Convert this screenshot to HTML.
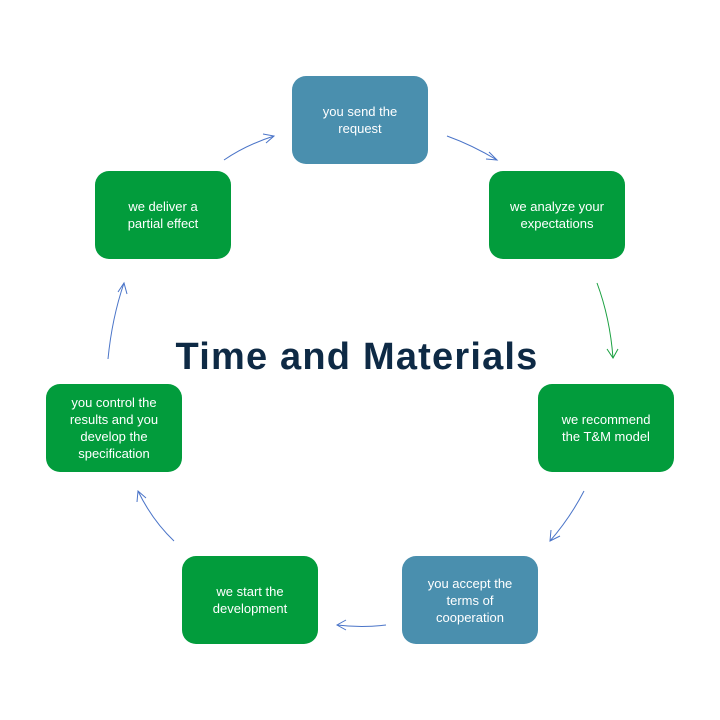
<!DOCTYPE html>
<html><head><style>
body{margin:0;width:720px;height:720px;background:#fff;position:relative;overflow:hidden;font-family:"Liberation Sans",sans-serif}
.b{position:absolute;width:136px;height:88px;border-radius:14px;color:#fff;display:flex;align-items:center;justify-content:center;text-align:center;font-size:13px;line-height:17px}
.g{background:#029c3c}.u{background:#4a8fae}
.t{position:absolute;left:0;width:714px;top:336px;text-align:center;font-weight:bold;font-size:38px;letter-spacing:1.2px;color:#0e2a45}
</style></head><body>
<div class="b u" style="left:292px;top:76px">you send the<br>request</div>
<div class="b g" style="left:489px;top:171px">we analyze your<br>expectations</div>
<div class="b g" style="left:538px;top:384px">we recommend<br>the T&amp;M model</div>
<div class="b u" style="left:402px;top:556px">you accept the<br>terms of<br>cooperation</div>
<div class="b g" style="left:182px;top:556px">we start the<br>development</div>
<div class="b g" style="left:46px;top:384px">you control the<br>results and you<br>develop the<br>specification</div>
<div class="b g" style="left:95px;top:171px">we deliver a<br>partial effect</div>
<div class="t">Time and Materials</div>
<svg width="720" height="720" style="position:absolute;left:0;top:0" fill="none" stroke-width="1">
<g stroke="#4a74c8">
<path d="M447,136 Q472,145 497,160"/><path d="M486,159 L497,160 L489,152"/>
<path d="M584,491 Q570,518 550,541"/><path d="M551,530 L550,541 L560,536"/>
<path d="M386,625 Q362,628 337,625"/><path d="M346,620 L337,625 L346,630"/>
<path d="M174,541 Q152,520 138,491"/><path d="M137,502 L138,491 L146,498"/>
<path d="M108,359 Q112,318 124,283"/><path d="M118,292 L124,283 L127,294"/>
<path d="M224,160 Q246,145 274,136"/><path d="M263,134 L274,136 L266,143"/>
</g>
<g stroke="#1aa040"><path d="M597,283 Q610,318 613,358"/><path d="M607,349 L613,358 L618,349"/></g>
</svg>
</body></html>
